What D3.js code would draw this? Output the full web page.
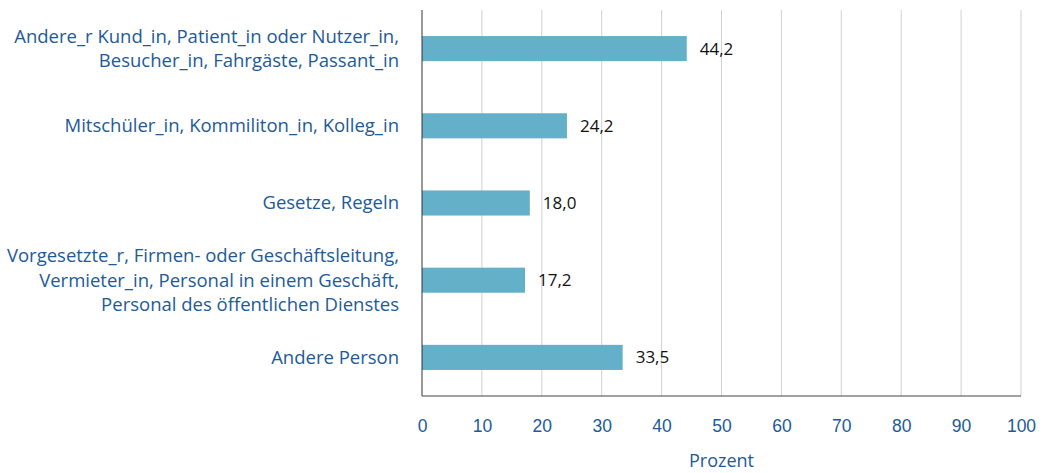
<!DOCTYPE html>
<html lang="de">
<head>
    <meta charset="UTF-8">
    <title>Prozent</title>
    <script src="https://d3js.org/d3.v7.min.js"></script>
    <style>
        body {
            margin: 0;
            padding: 0;
            background: #fff;
            font-family: "Open Sans", "Noto Sans", sans-serif;
        }
        svg {
            display: block;
        }
        .cat-label {
            fill: #1d5a97;
            font-size: 18.5px;
        }
        .tick-label {
            fill: #1d5a97;
            font-size: 17.5px;
        }
        .value-label {
            fill: #111;
            font-size: 17px;
        }
    </style>
</head>
<body>
    <svg id="chart" width="1044" height="473"></svg>

    <script>
        // Kategorien (Zeilen im Label), Werte und Achsenticks
        const categories = [
            ["Andere_r Kund_in, Patient_in oder Nutzer_in,", "Besucher_in, Fahrgäste, Passant_in"],
            ["Mitschüler_in, Kommiliton_in, Kolleg_in"],
            ["Gesetze, Regeln"],
            ["Vorgesetzte_r, Firmen- oder Geschäftsleitung,", "Vermieter_in, Personal in einem Geschäft,", "Personal des öffentlichen Dienstes"],
            ["Andere Person"]
        ];
        const values = [44.2, 24.2, 18.0, 17.2, 33.5];
        const xTicks = [0, 10, 20, 30, 40, 50, 60, 70, 80, 90, 100];
        const axisTitle = "Prozent";

        const margin = { top: 10, right: 23, bottom: 77, left: 422 };
        const W = 1044, H = 473;
        const width = W - margin.left - margin.right;
        const height = H - margin.top - margin.bottom;

        const svg = d3.select("#chart");
        const g = svg.append("g")
            .attr("transform", `translate(${margin.left},${margin.top})`);

        const x = d3.scaleLinear().domain([0, 100]).range([0, width]);
        const y = d3.scaleBand()
            .domain(d3.range(categories.length))
            .range([0, height])
            .paddingInner(0.675)
            .paddingOuter(0.3375);

        // Gitterlinien
        g.selectAll(".grid")
            .data(xTicks.filter(d => d > 0))
            .enter()
            .append("line")
            .attr("x1", d => x(d)).attr("x2", d => x(d))
            .attr("y1", 0).attr("y2", height)
            .attr("stroke", "#d0d0d0")
            .attr("stroke-width", 1);

        // Balken
        g.selectAll(".bar")
            .data(values)
            .enter()
            .append("rect")
            .attr("x", 0)
            .attr("y", (d, i) => y(i))
            .attr("width", d => x(d))
            .attr("height", y.bandwidth())
            .attr("fill", "#63b0c8");

        // Wertbeschriftungen
        const fmt = d => d3.format(".1f")(d).replace(".", ",");
        g.selectAll(".value-label")
            .data(values)
            .enter()
            .append("text")
            .attr("class", "value-label")
            .attr("x", d => x(d) + 13)
            .attr("y", (d, i) => y(i) + y.bandwidth() / 2)
            .attr("dy", "0.35em")
            .text(fmt);

        // Achsen
        g.append("line")
            .attr("x1", 0).attr("x2", 0)
            .attr("y1", 0).attr("y2", height)
            .attr("stroke", "#333").attr("stroke-width", 1);
        g.append("line")
            .attr("x1", 0).attr("x2", width)
            .attr("y1", height).attr("y2", height)
            .attr("stroke", "#444").attr("stroke-width", 1);

        const xAxis = g.append("g")
            .attr("transform", `translate(0,${height})`)
            .call(d3.axisBottom(x).tickValues(xTicks).tickSize(0).tickPadding(24));
        xAxis.select(".domain").remove();
        xAxis.selectAll("text")
            .attr("class", "tick-label")
            .attr("font-family", null)
            .attr("fill", null)
            .style("font-size", "17.5px");

        g.append("text")
            .attr("class", "tick-label")
            .attr("x", width / 2)
            .attr("y", height + 71)
            .attr("text-anchor", "middle")
            .style("font-size", "18px")
            .text(axisTitle);

        // Kategorienbeschriftungen
        const lineH = 24.5;
        const labels = g.selectAll(".cat")
            .data(categories)
            .enter()
            .append("text")
            .attr("class", "cat-label")
            .attr("text-anchor", "end")
            .attr("transform", (d, i) => `translate(-23,${y(i) + y.bandwidth() / 2})`);
        labels.selectAll("tspan")
            .data(d => d.map((t, k) => ({ t, k, n: d.length })))
            .enter()
            .append("tspan")
            .attr("x", 0)
            .attr("y", d => (d.k - (d.n - 1) / 2) * lineH)
            .attr("dy", "0.35em")
            .text(d => d.t);
    </script>
</body>
</html>
